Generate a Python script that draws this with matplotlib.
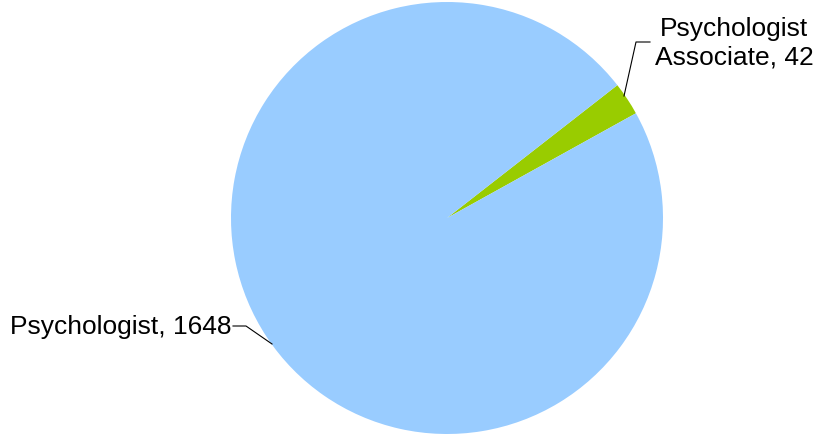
import matplotlib.pyplot as plt

plt.rcParams['font.family'] = ['Liberation Sans', 'DejaVu Sans']

labels = ['Psychologist\nAssociate', 'Psychologist']
counts = [42, 1648]
colors = ['#99CC00', '#99CCFF']

fig = plt.figure(figsize=(8.15, 4.35), dpi=100)
ax = fig.add_axes([0, 0, 1, 1])

# pie drawn in pixel-like data coords (y up)
cx, cy, r = 447, 435 - 219, 216
ax.pie(counts, colors=colors, startangle=29, counterclock=True,
       center=(cx, cy), radius=r, wedgeprops={'linewidth': 0})

ax.set_xlim(0, 815)
ax.set_ylim(0, 435)
ax.set_aspect('equal')
ax.axis('off')

# leader lines + labels
ax.plot([624, 636, 650], [435 - 97, 435 - 43, 435 - 43], color='black', lw=0.8)
ax.text(734, 435 - 43, f"{labels[0]}, {counts[0]}", ha='center', va='center',
        fontsize=19, linespacing=1.25)

ax.plot([272, 246, 233], [435 - 345, 435 - 327, 435 - 327], color='black', lw=0.8)
ax.text(231, 435 - 327, f"{labels[1]}, {counts[1]}", ha='right', va='center',
        fontsize=19)

fig.savefig('out.png', dpi=100)
